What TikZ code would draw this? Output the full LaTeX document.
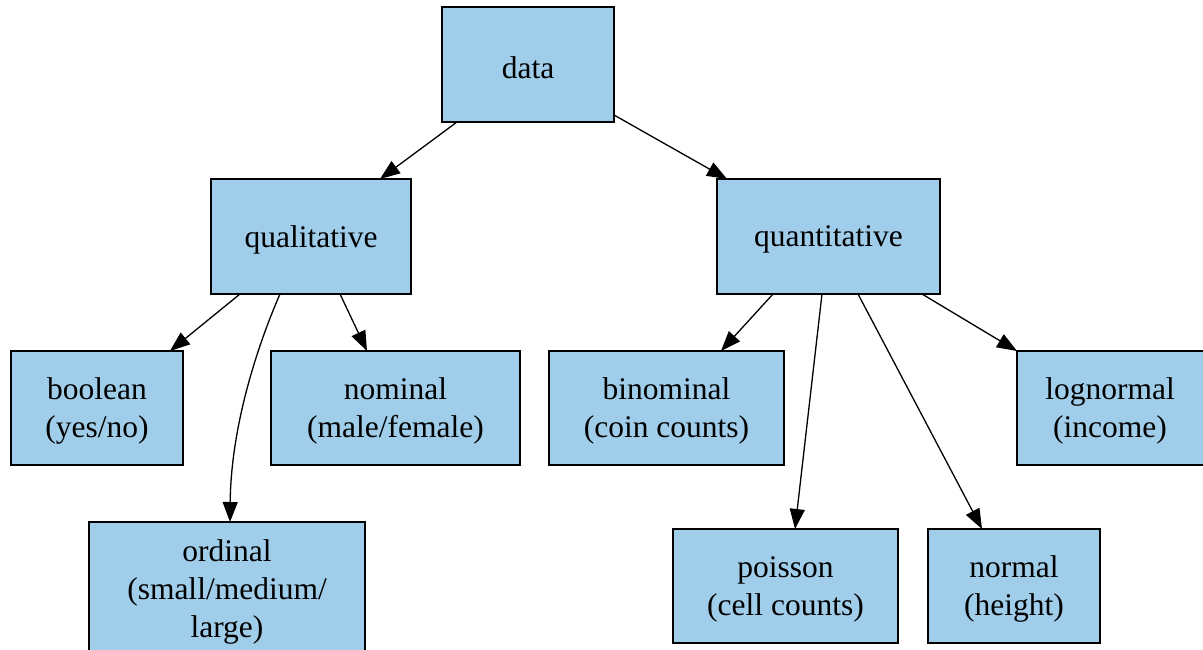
\documentclass[tikz,border=0pt]{standalone}
\usepackage{fontspec}
\setmainfont{Liberation Serif}
\usetikzlibrary{arrows.meta}
\definecolor{boxfill}{RGB}{160,206,234}
\tikzset{
  box/.style={draw=black, line width=1.4pt, fill=boxfill, rectangle, inner sep=0pt, outer sep=0pt},
  lbl/.style={align=center, font=\fontsize{31.5}{38}\selectfont, yshift=-3pt, inner sep=0pt},
  edge/.style={line width=1.3pt, -{Triangle[length=20pt,width=15pt]}}
}
\begin{document}
\begin{tikzpicture}[x=1pt,y=-1pt]
\useasboundingbox (0,0) rectangle (1203,650);
\clip (0,0) rectangle (1203,650);
\node[box, minimum width=172, minimum height=115, label={[lbl]center:data}] (data) at (528,64.5) {};
\node[box, minimum width=200, minimum height=115, label={[lbl]center:qualitative}] (qual) at (311,236.5) {};
\node[box, minimum width=223, minimum height=115, label={[lbl]center:quantitative}] (quant) at (828.5,236.5) {};
\node[box, minimum width=172, minimum height=114, label={[lbl]center:boolean\\(yes/no)}] (bool) at (97,408) {};
\node[box, minimum width=249, minimum height=114, label={[lbl]center:nominal\\(male/female)}] (nom) at (395.5,408) {};
\node[box, minimum width=235, minimum height=114, label={[lbl]center:binominal\\(coin counts)}] (binom) at (666.5,408) {};
\node[box, minimum width=200, minimum height=114, label={[lbl, xshift=-7pt]center:lognormal\\(income)}] (logn) at (1117,408) {};
\node[box, minimum width=276, minimum height=134, label={[lbl]center:ordinal\\(small/medium/\\large)}] (ord) at (227,589) {};
\node[box, minimum width=225, minimum height=114, label={[lbl]center:poisson\\(cell counts)}] (pois) at (785.5,586) {};
\node[box, minimum width=172, minimum height=114, label={[lbl]center:normal\\(height)}] (norm) at (1014,586) {};

\draw[edge] (data.south -| 457,0) -- (qual.north -| 380,0);
\draw[edge] (data.east |- 0,115) -- (quant.north -| 727,0);
\draw[edge] (qual.south -| 240,0) -- (bool.north -| 170,0);
\draw[edge] (qual.south -| 280,0) .. controls (262,335) and (231,420) .. (ord.north -| 230,0);
\draw[edge] (qual.south -| 340,0) -- (nom.north -| 367,0);
\draw[edge] (quant.south -| 773,0) -- (binom.north -| 721,0);
\draw[edge] (quant.south -| 822,0) -- (pois.north -| 795,0);
\draw[edge] (quant.south -| 858,0) -- (norm.north -| 982,0);
\draw[edge] (quant.south -| 922,0) -- (logn.north west);
\end{tikzpicture}
\end{document}
